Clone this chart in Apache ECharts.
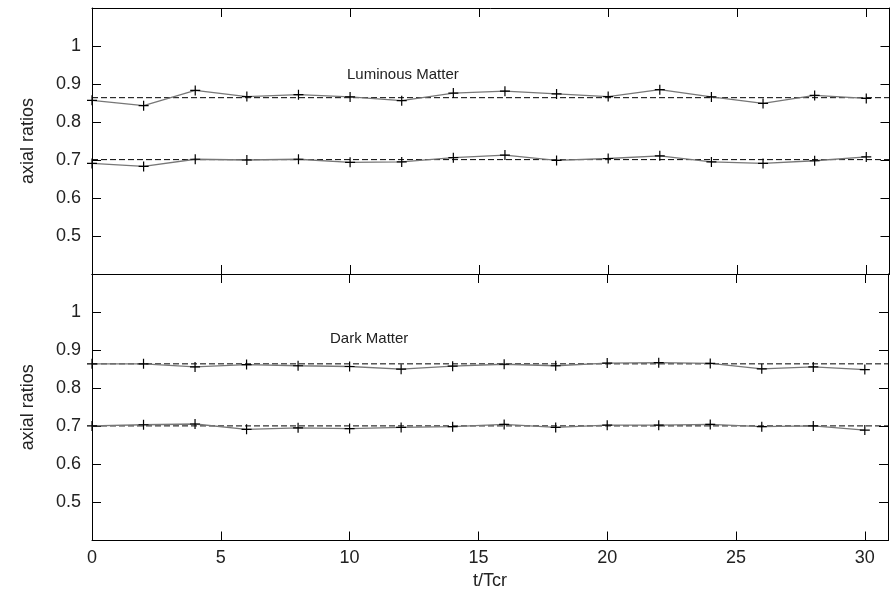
<!DOCTYPE html>
<html>
<head>
<meta charset="utf-8">
<script src="https://cdn.jsdelivr.net/npm/echarts@6/dist/echarts.min.js"></script>
<style>html,body{margin:0;padding:0;background:#fff;}#c{width:891px;height:595px;}</style>
</head>
<body>
<div id="c"></div>
<script>
var times = [0,2,4,6,8,10,12,14,16,18,20,22,24,26,28,30];
var lumUpper = [0.857,0.843,0.883,0.867,0.872,0.866,0.856,0.876,0.881,0.874,0.867,0.885,0.866,0.849,0.870,0.862];
var lumLower = [0.691,0.683,0.702,0.700,0.702,0.694,0.695,0.706,0.713,0.699,0.704,0.711,0.695,0.691,0.698,0.708];
var darkUpper = [0.864,0.864,0.856,0.862,0.859,0.857,0.850,0.858,0.863,0.859,0.866,0.867,0.865,0.851,0.856,0.849];
var darkLower = [0.701,0.704,0.706,0.692,0.696,0.694,0.697,0.699,0.705,0.697,0.703,0.703,0.705,0.699,0.701,0.690];
var lumRef = [0.864, 0.701];
var darkRef = [0.864, 0.701];
var xRange = [0, 30.9];
var yRange = [0.4, 1.1];
var panelTitles = ['Luminous Matter', 'Dark Matter'];
var xTitle = 't/Tcr';
var yTitle = 'axial ratios';

var FONT = 'Liberation Sans, Arial, sans-serif';
var TXT = '#222';
var plus = 'path://M0,5L10,5M5,0L5,10';

function pairs(xs, ys){ return xs.map(function(x,i){ return [x, ys[i]]; }); }

var grids = [
  {left:92, width:797.5, top:8, height:266},
  {left:92, width:797.5, top:274, height:266.5}
];

var xAxes = [], yAxes = [];
[0,1].forEach(function(g){
  ['bottom','top'].forEach(function(pos){
    var showLab = (g===1 && pos==='bottom');
    xAxes.push({
      type:'value', gridIndex:g, position:pos, min:xRange[0], max:xRange[1], interval:5,
      axisLine:{show:true, onZero:false, lineStyle:{color:'#000', width:1}},
      axisTick:{show:true, inside:true, length:9, lineStyle:{color:'#000'}},
      splitLine:{show:false},
      axisLabel:{show:showLab, margin:9, fontFamily:FONT, fontSize:18, color:TXT,
        formatter:function(v){ return (Math.abs(v % 5) < 1e-6) ? String(v) : ''; }},
      name: showLab ? xTitle : '', nameLocation:'middle', nameGap:32,
      nameTextStyle:{fontFamily:FONT, fontSize:18, color:TXT}
    });
  });
  ['left','right'].forEach(function(pos){
    var showLab = pos==='left';
    yAxes.push({
      type:'value', gridIndex:g, position:pos, min:yRange[0], max:yRange[1], interval:0.1,
      axisLine:{show:true, onZero:false, lineStyle:{color:'#000', width:1}},
      axisTick:{show:true, inside:true, length:9, lineStyle:{color:'#000'}},
      splitLine:{show:false},
      axisLabel:{show:showLab, margin:11, fontFamily:FONT, fontSize:18, color:TXT,
        formatter:function(v){
          var r = Math.round(v*10)/10;
          if (r < 0.45 || r > 1.05) return '';
          return r === 1 ? '1' : r.toFixed(1);
        }},
      name: showLab ? yTitle : '', nameLocation:'middle', nameGap:55, nameRotate:90,
      nameTextStyle:{fontFamily:FONT, fontSize:18, color:TXT}
    });
  });
});

function dataSeries(g, ys){
  return {
    type:'line', xAxisIndex:g*2, yAxisIndex:g*2, data:pairs(times, ys),
    symbol:plus, symbolSize:10, showSymbol:true,
    lineStyle:{color:'#777', width:1.3},
    itemStyle:{color:'rgba(0,0,0,0)', borderColor:'#000', borderWidth:1.2},
    animation:false, z:3
  };
}
function refSeries(g, v){
  return {
    type:'line', xAxisIndex:g*2, yAxisIndex:g*2, data:[[xRange[0], v],[xRange[1], v]],
    symbol:'none', lineStyle:{color:'#000', width:1, type:[6,3]}, animation:false, z:2
  };
}

var series = [
  refSeries(0, lumRef[0]), refSeries(0, lumRef[1]),
  dataSeries(0, lumUpper), dataSeries(0, lumLower),
  refSeries(1, darkRef[0]), refSeries(1, darkRef[1]),
  dataSeries(1, darkUpper), dataSeries(1, darkLower)
];

var chart = echarts.init(document.getElementById('c'), null, {renderer:'canvas'});
chart.setOption({
  animation:false,
  backgroundColor:'#fff',
  grid:grids,
  xAxis:xAxes,
  yAxis:yAxes,
  series:series,
  graphic:[
    {type:'text', left:347, top:67, style:{text:panelTitles[0], font:'15px ' + FONT, fill:TXT}},
    {type:'text', left:330, top:331, style:{text:panelTitles[1], font:'15px ' + FONT, fill:TXT}}
  ]
});
</script>
</body>
</html>
